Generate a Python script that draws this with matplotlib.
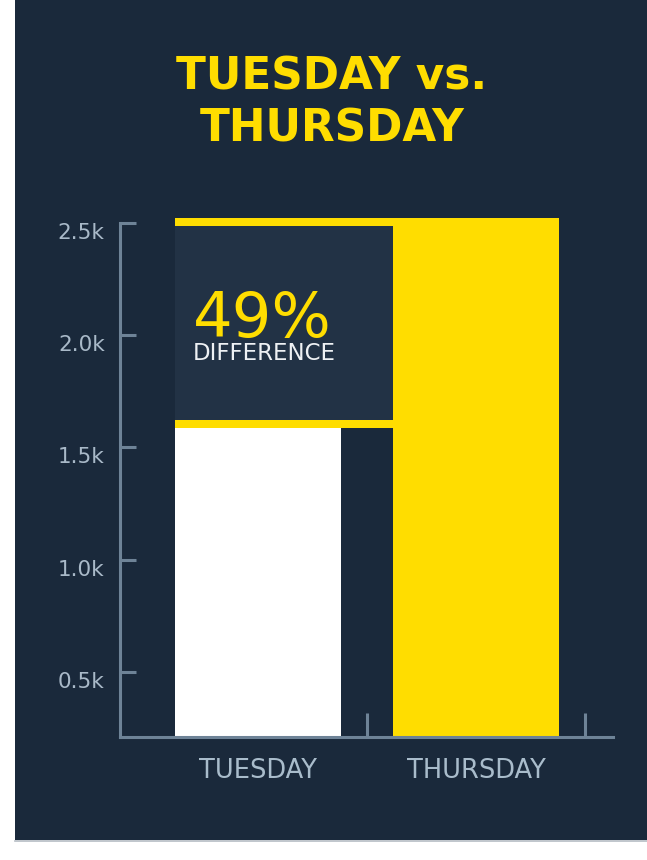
import matplotlib
matplotlib.use("Agg")
import matplotlib.pyplot as plt
from matplotlib.patches import Rectangle
from matplotlib.lines import Line2D

# ---- data ----
categories = ["TUESDAY", "THURSDAY"]
values = [1585, 2521]
ytick_values = [500, 1000, 1500, 2000, 2500]
ytick_labels = ["0.5k", "1.0k", "1.5k", "2.0k", "2.5k"]
title_lines = ["TUESDAY vs.", "THURSDAY"]
diff_value = "49%"
diff_label = "DIFFERENCE"

# ---- style ----
BG = "#1a293b"
BOX = "#223245"
YELLOW = "#FFDD00"
AXIS = "#6e8397"
TICKTXT = "#a9b9c8"
W, H = 647, 860

fig = plt.figure(figsize=(W / 100, H / 100), dpi=100, facecolor="white")

# dark panel
fig.patches.append(Rectangle((15 / W, 20 / H), (W - 15) / W, (H - 20) / H,
                             transform=fig.transFigure, facecolor=BG,
                             edgecolor="none", zorder=-10))
fig.lines.append(Line2D([15 / W, 1], [19.5 / H, 19.5 / H], transform=fig.transFigure,
                        color="#b5bcc4", lw=1.2, zorder=-9))

# title
fig.text(332 / W, 1 - 89 / H, title_lines[0], color=YELLOW, fontsize=31.5,
         fontweight="bold", ha="center", va="baseline", family="DejaVu Sans")
fig.text(332 / W, 1 - 142 / H, title_lines[1], color=YELLOW, fontsize=31.5,
         fontweight="bold", ha="center", va="baseline", family="DejaVu Sans")

# axes: pixel box left=120, right=613, top=218, bottom=737
ax = fig.add_axes([120 / W, 1 - 737 / H, (613 - 120) / W, (737 - 218) / H])
ax.set_facecolor("none")
ax.set_xlim(-0.633, 1.628)
ax.set_ylim(211, 2521)

x = [0, 1]
bw = 0.761
ax.bar(x[0], values[0], width=bw, color="white", zorder=1)
ax.bar(x[1], values[1], width=bw, color=YELLOW, zorder=1)

# difference box between Tuesday top and Thursday top
left = x[0] - bw / 2
right = x[1] - bw / 2
band = 36
ax.add_patch(Rectangle((left, values[0]), right - left, values[1] - values[0],
                       facecolor=BOX, edgecolor="none", zorder=1.5))
ax.add_patch(Rectangle((left, values[0]), right - left, band,
                       facecolor=YELLOW, edgecolor="none", zorder=1.6))
ax.add_patch(Rectangle((left, values[1] - band), right - left, band,
                       facecolor=YELLOW, edgecolor="none", zorder=1.6))

ax.text(left + 0.08, 1991, diff_value, color=YELLOW, fontsize=45,
        ha="left", va="baseline", family="DejaVu Sans", zorder=3)
ax.text(left + 0.08, 1889, diff_label, color="#eef1f4", fontsize=16.5,
        ha="left", va="baseline", family="DejaVu Sans", zorder=3)

# spines
for s in ["top", "right"]:
    ax.spines[s].set_visible(False)
for s in ["left", "bottom"]:
    ax.spines[s].set_color(AXIS)
    ax.spines[s].set_linewidth(2.2)
    ax.spines[s].set_zorder(4)
ax.spines["left"].set_bounds(211, 2500)

# y ticks
ax.set_yticks(ytick_values)
ax.set_yticklabels(ytick_labels)
ax.tick_params(axis="y", direction="in", length=11.5, width=2.2, color=AXIS,
               labelcolor=TICKTXT, labelsize=15.5, pad=11)
for lab in ax.get_yticklabels():
    lab.set_va("top")
    lab.set_family("DejaVu Sans")

# x ticks at band boundaries, labels at centres
ax.set_xticks([0.5, 1.5])
ax.set_xticklabels([])
ax.tick_params(axis="x", which="major", direction="in", length=17, width=2.2,
               color=AXIS)
ax.set_xticks(x, minor=True)
ax.set_xticklabels(categories, minor=True)
ax.tick_params(axis="x", which="minor", length=0, pad=15, labelsize=18.5,
               labelcolor="#a9bccb")

fig.savefig("out.png", dpi=100, facecolor="white")
